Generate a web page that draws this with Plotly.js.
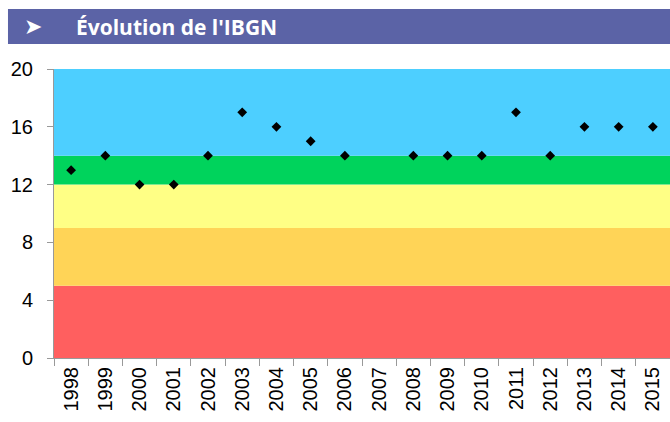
<!DOCTYPE html>
<html><head><meta charset="utf-8">
<script src="https://cdn.plot.ly/plotly-3.0.1.min.js"></script>
<style>html,body{margin:0;padding:0;background:#fff;}#chart{width:670px;height:422px;}</style>
</head><body><div id="chart"></div>
<script>
const years = ['1998','1999','2000','2001','2002','2003','2004','2005','2006','2007','2008','2009','2010','2011','2012','2013','2014','2015'];
const ibgn = [13,14,12,12,14,17,16,15,14,null,14,14,14,17,14,16,16,16];
const bandLow = [0,5,9,12,14];
const bandHigh = [5,9,12,14,20];
const bandColors = ['#FF5F5F','#FFD457','#FFFF85','#00D35C','#4DCFFF'];
const yTicks = [0,4,8,12,16,20];
const titleText = "Évolution de l'IBGN";

const shapes = bandLow.map((lo,i)=>({type:'rect',xref:'paper',yref:'y',x0:0,x1:1,y0:lo,y1:bandHigh[i],fillcolor:bandColors[i],line:{width:0},layer:'below'}));
shapes.push({type:'rect',xref:'paper',yref:'paper',x0:-0.0747,x1:1.01,y0:1.0865,y1:1.2076,fillcolor:'#5B63A6',line:{width:0}});

const trace = {x:years,y:ibgn,type:'scatter',mode:'markers',marker:{symbol:'diamond',size:7.5,color:'#000'},hoverinfo:'x+y'};

const layout = {
  width:670,height:422,
  margin:{l:54,r:0,t:69,b:64,pad:0},
  paper_bgcolor:'#fff',plot_bgcolor:'rgba(0,0,0,0)',
  showlegend:false,
  shapes:shapes,
  font:{family:'Liberation Sans, Arial, sans-serif',size:19,color:'#000'},
  xaxis:{type:'category',range:[-0.5,years.length-0.5],tickangle:-90,tickson:'boundaries',ticks:'outside',ticklen:7,tickcolor:'#999',showline:true,linecolor:'#999',showgrid:false,zeroline:false,tickfont:{size:20},fixedrange:true},
  yaxis:{range:[0,20],tickvals:yTicks,ticks:'outside',ticklen:6,tickcolor:'#999',showline:true,linecolor:'#999',showgrid:false,zeroline:false,tickfont:{size:20},ticklabelstandoff:10,fixedrange:true},
  annotations:[
    {xref:'paper',yref:'paper',x:-0.052,y:1.147,xanchor:'left',yanchor:'middle',text:'➤',showarrow:false,font:{family:'DejaVu Sans',size:22,color:'#fff'}},
    {xref:'paper',yref:'paper',x:0.032,y:1.147,xanchor:'left',yanchor:'middle',text:'<b>'+titleText+'</b>',showarrow:false,font:{family:'Open Sans, sans-serif',size:21,color:'#fff'}}
  ]
};
Plotly.newPlot('chart',[trace],layout,{displayModeBar:false,staticPlot:true});
</script></body></html>
